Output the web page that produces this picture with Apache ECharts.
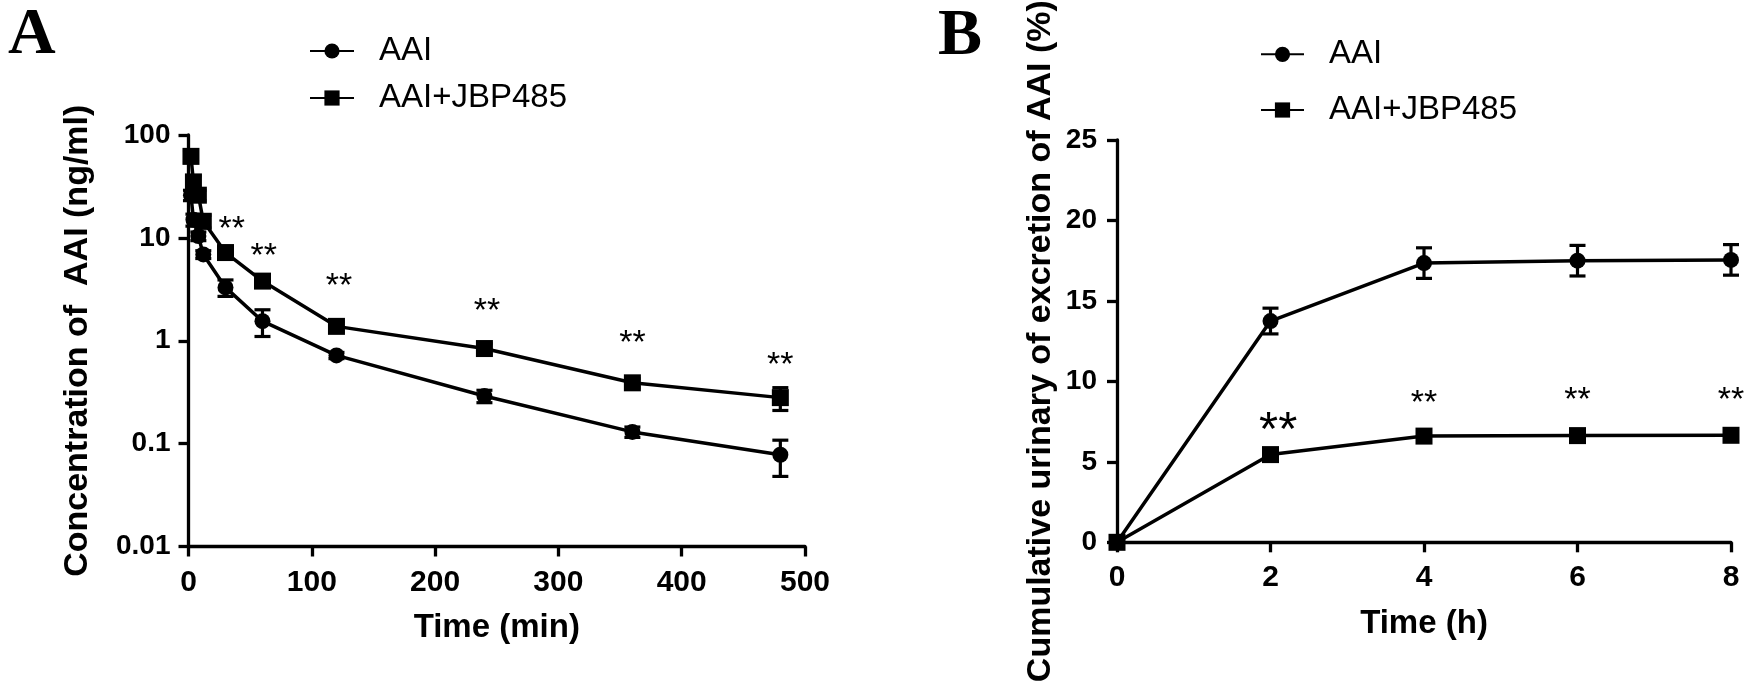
<!DOCTYPE html>
<html>
<head>
<meta charset="utf-8">
<script src="https://cdn.jsdelivr.net/npm/echarts@6/dist/echarts.min.js"></script>
<style>
html,body{margin:0;padding:0;background:#fff;}
#chart{width:1748px;height:683px;}
</style>
</head>
<body>
<div id="chart"></div>
<script>
// ---------- Panel A: plasma concentration (log scale) ----------
const timesA = [2, 4, 8, 12, 30, 60, 120, 240, 360, 480];
const aaiA = [26, 15, 10.4, 6.9, 3.3, 1.55, 0.72, 0.29, 0.13, 0.078];
const aaiSdA = [3, 2, 1, 0.6, 0.6, 0.45, 0.05, 0.04, 0.015, 0.03];
const jbpA = [62, 35, 26, 14.5, 7.2, 3.8, 1.38, 0.84, 0.39, 0.28];
const jbpSdA = [8, 5, 3, 2, 0.6, 0.4, 0.15, 0.1, 0.04, 0.07];
const starsA = [[35, 14.3], [61, 7.9], [122, 4.0], [242, 2.3], [360, 1.13], [480, 0.69]];
const yTicksA = ['0.01', '0.1', '1', '10', '100'];
const xTicksA = ['0', '100', '200', '300', '400', '500'];

// ---------- Panel B: cumulative urinary excretion ----------
const timesB = [0, 2, 4, 6, 8];
const aaiB = [0, 13.75, 17.35, 17.5, 17.55];
const aaiSdB = [0, 0.8, 0.95, 0.95, 0.95];
const jbpB = [0, 5.45, 6.6, 6.63, 6.65];
const jbpSdB = [0, 0.2, 0.25, 0.25, 0.25];
const starsB = [[2.1, 7.6], [4, 9.1], [6, 9.3], [8, 9.3]];
const yTicksB = ['0', '5', '10', '15', '20', '25'];
const xTicksB = ['0', '2', '4', '6', '8'];

const seriesNames = ['AAI', 'AAI+JBP485'];

const SANS = '"Liberation Sans", Arial, sans-serif';
const SERIF = '"Liberation Serif", "Times New Roman", serif';
const BLACK = '#000';

function zip(xs, ys) { return xs.map((x, i) => [x, ys[i]]); }
function zip3(xs, ys, es) { return xs.map((x, i) => [x, ys[i], es[i]]); }

function errRender(params, api) {
  const x = api.value(0), m = api.value(1), s = api.value(2);
  if (!(s > 0)) return null;
  const top = api.coord([x, m + s]);
  const bot = api.coord([x, m - s]);
  const hw = 8;
  const st = { stroke: BLACK, lineWidth: 3.2 };
  return {
    type: 'group',
    children: [
      { type: 'line', shape: { x1: top[0], y1: top[1], x2: bot[0], y2: bot[1] }, style: st },
      { type: 'line', shape: { x1: top[0] - hw, y1: top[1], x2: top[0] + hw, y2: top[1] }, style: st },
      { type: 'line', shape: { x1: bot[0] - hw, y1: bot[1], x2: bot[0] + hw, y2: bot[1] }, style: st }
    ]
  };
}

function starRender(bigFirst) {
  return function (params, api) {
    const p = api.coord([api.value(0), api.value(1)]);
    const fs = (bigFirst && params.dataIndex === 0) ? 49 : 34;
    return {
      type: 'text',
      x: p[0],
      y: p[1] + 0.234 * fs,
      style: { text: '**', fontSize: fs, fontFamily: SANS, fill: BLACK, align: 'center', verticalAlign: 'middle' }
    };
  };
}

function axisCommon() {
  return {
    axisLine: { show: true, onZero: false, lineStyle: { color: BLACK, width: 3.3 } },
    axisTick: { show: true, inside: false, length: 10, lineStyle: { color: BLACK, width: 3.3 } },
    splitLine: { show: false },
    minorTick: { show: false }
  };
}

function lineSeries(name, data, xi, yi, symbol, size) {
  return {
    type: 'line', name: name, xAxisIndex: xi, yAxisIndex: yi, data: data,
    symbol: symbol, symbolSize: size, showAllSymbol: true, clip: false,
    lineStyle: { color: BLACK, width: 3.5 },
    itemStyle: { color: BLACK, borderWidth: 0 },
    emphasis: { disabled: true }, z: 3
  };
}

const chart = echarts.init(document.getElementById('chart'), null, { renderer: 'canvas' });

const option = {
  animation: false,
  backgroundColor: '#fff',
  textStyle: { fontFamily: SANS, color: BLACK },
  grid: [
    { left: 188.5, top: 135, width: 616.5, height: 411.5, containLabel: false },
    { left: 1117, top: 137.7, width: 614, height: 408.3, containLabel: false }
  ],
  legend: [
    {
      data: seriesNames, orient: 'vertical', left: 304, top: 29.5,
      itemWidth: 44, itemHeight: 19, itemGap: 14, selectedMode: false,
      textStyle: { fontSize: 33, lineHeight: 33, fontFamily: SANS, color: BLACK, padding: [0, 0, 0, 20] }
    },
    {
      data: seriesNames, orient: 'vertical', left: 1255, top: 32.8,
      itemWidth: 43, itemHeight: 19, itemGap: 22.7, selectedMode: false,
      textStyle: { fontSize: 33, lineHeight: 33, fontFamily: SANS, color: BLACK, padding: [0, 0, 0, 20] }
    }
  ],
  xAxis: [
    Object.assign(axisCommon(), {
      gridIndex: 0, type: 'value', min: 0, max: 500, interval: 100,
      axisLabel: {
        fontSize: 30, fontWeight: 'bold', color: BLACK, fontFamily: SANS, margin: 21,
        formatter: v => xTicksA[Math.round(v / 100)]
      },
      name: 'Time (min)', nameLocation: 'middle', nameGap: 65,
      nameTextStyle: { fontSize: 33, fontWeight: 'bold', color: BLACK, fontFamily: SANS }
    }),
    Object.assign(axisCommon(), {
      gridIndex: 1, type: 'value', min: 0, max: 8, interval: 2,
      axisLabel: {
        fontSize: 30, fontWeight: 'bold', color: BLACK, fontFamily: SANS, margin: 20,
        formatter: v => xTicksB[Math.round(v / 2)]
      },
      name: 'Time (h)', nameLocation: 'middle', nameGap: 65,
      nameTextStyle: { fontSize: 33, fontWeight: 'bold', color: BLACK, fontFamily: SANS }
    })
  ],
  yAxis: [
    Object.assign(axisCommon(), {
      gridIndex: 0, type: 'log', logBase: 10, min: 0.01, max: 100,
      axisLabel: {
        fontSize: 28, fontWeight: 'bold', color: BLACK, fontFamily: SANS, margin: 18,
        formatter: v => yTicksA[Math.round(Math.log10(v)) + 2]
      },
      name: 'Concentration of  AAI (ng/ml)', nameLocation: 'middle', nameRotate: 90, nameGap: 94,
      nameTextStyle: { fontSize: 34, fontWeight: 'bold', color: BLACK, fontFamily: SANS }
    }),
    Object.assign(axisCommon(), {
      gridIndex: 1, type: 'value', min: 0, max: 25, interval: 5,
      axisLabel: {
        fontSize: 28, fontWeight: 'bold', color: BLACK, fontFamily: SANS, margin: 20,
        formatter: v => yTicksB[Math.round(v / 5)]
      },
      name: 'Cumulative urinary of excretion of AAI (%)', nameLocation: 'middle', nameRotate: 90, nameGap: 59,
      nameTextStyle: { fontSize: 34, fontWeight: 'bold', color: BLACK, fontFamily: SANS }
    })
  ],
  graphic: [
    { type: 'text', x: 8, y: 35.5, style: { text: 'A', fontSize: 66, fontWeight: 'bold', fontFamily: SERIF, fill: BLACK, align: 'left', verticalAlign: 'middle' } },
    { type: 'text', x: 938, y: 36.5, style: { text: 'B', fontSize: 66, fontWeight: 'bold', fontFamily: SERIF, fill: BLACK, align: 'left', verticalAlign: 'middle' } }
  ],
  series: [
    { type: 'custom', name: 'errAAI_A', xAxisIndex: 0, yAxisIndex: 0, renderItem: errRender, data: zip3(timesA, aaiA, aaiSdA), clip: false, z: 2, silent: true },
    { type: 'custom', name: 'errJBP_A', xAxisIndex: 0, yAxisIndex: 0, renderItem: errRender, data: zip3(timesA, jbpA, jbpSdA), clip: false, z: 2, silent: true },
    lineSeries(seriesNames[0], zip(timesA, aaiA), 0, 0, 'circle', 16),
    lineSeries(seriesNames[1], zip(timesA, jbpA), 0, 0, 'rect', 17),
    { type: 'custom', name: 'starsA', xAxisIndex: 0, yAxisIndex: 0, renderItem: starRender(false), data: starsA, clip: false, z: 4, silent: true },

    { type: 'custom', name: 'errAAI_B', xAxisIndex: 1, yAxisIndex: 1, renderItem: errRender, data: zip3(timesB, aaiB, aaiSdB), clip: false, z: 2, silent: true },
    { type: 'custom', name: 'errJBP_B', xAxisIndex: 1, yAxisIndex: 1, renderItem: errRender, data: zip3(timesB, jbpB, jbpSdB), clip: false, z: 2, silent: true },
    lineSeries(seriesNames[0], zip(timesB, aaiB), 1, 1, 'circle', 16),
    lineSeries(seriesNames[1], zip(timesB, jbpB), 1, 1, 'rect', 17),
    { type: 'custom', name: 'starsB', xAxisIndex: 1, yAxisIndex: 1, renderItem: starRender(true), data: starsB, clip: false, z: 4, silent: true }
  ]
};

chart.setOption(option);
</script>
</body>
</html>
